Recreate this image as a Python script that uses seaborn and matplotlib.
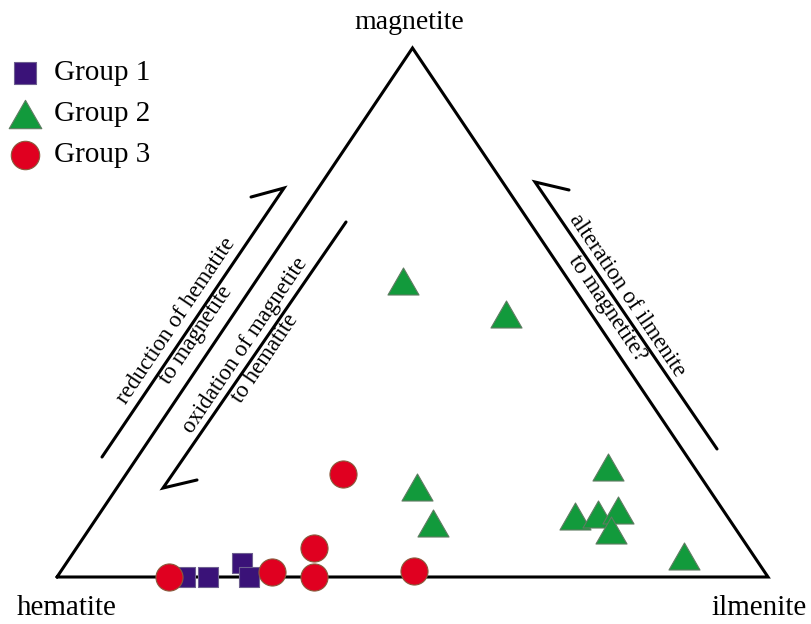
import matplotlib
matplotlib.use("Agg")
import matplotlib.pyplot as plt
import seaborn as sns
import pandas as pd
import numpy as np
from matplotlib.path import Path

# --- data: ternary compositions (fractions of magnetite / ilmenite, hematite = rest) ---
g1_magnetite = [0.000, 0.000, 0.026, 0.000]
g1_ilmenite = [0.180, 0.212, 0.247, 0.270]

g2_magnetite = [0.560, 0.497, 0.170, 0.102, 0.208, 0.115, 0.119, 0.127, 0.089, 0.040]
g2_ilmenite = [0.207, 0.383, 0.421, 0.478, 0.671, 0.671, 0.701, 0.725, 0.734, 0.862]

g3_magnetite = [0.000, 0.010, 0.055, 0.000, 0.011, 0.195]
g3_ilmenite = [0.158, 0.298, 0.334, 0.361, 0.497, 0.305]

group_names = ["Group 1", "Group 2", "Group 3"]


def to_xy(mag, ilm):
    mag = np.asarray(mag)
    ilm = np.asarray(ilm)
    return ilm + 0.5 * mag, mag


frames = []
for name, mag, ilm in zip(group_names,
                          [g1_magnetite, g2_magnetite, g3_magnetite],
                          [g1_ilmenite, g2_ilmenite, g3_ilmenite]):
    x, y = to_xy(mag, ilm)
    frames.append(pd.DataFrame({"x": x, "y": y, "group": name}))
df = pd.concat(frames, ignore_index=True)

# --- style ---
sns.set_style("white")
plt.rcParams["font.family"] = ["Liberation Serif", "DejaVu Serif"]
plt.rcParams["text.color"] = "black"

tri_marker = Path([(-1, -0.87), (1, -0.87), (0, 0.87), (-1, -0.87)],
                  [Path.MOVETO, Path.LINETO, Path.LINETO, Path.CLOSEPOLY])

estilos = {
    "Group 1": dict(marker="s", s=210, color="#3a1278", edgecolor="#6e6090"),
    "Group 2": dict(marker=tri_marker, s=500, color="#129a3c", edgecolor="#5f7c62"),
    "Group 3": dict(marker="o", s=380, color="#e00020", edgecolor="#8a5a3c"),
}

fig = plt.figure(figsize=(8.12, 6.24), dpi=100)
ax = fig.add_axes([57 / 812, 47 / 624, 711 / 812, 529 / 624])
ax.set_xlim(0, 1)
ax.set_ylim(0, 1)
ax.axis("off")

# triangle outline
ax.plot([0, 1, 0.5, 0], [0, 0, 1, 0], color="black", lw=2.2, zorder=1,
        clip_on=False, solid_joinstyle="miter")

for name in group_names:
    sub = df[df["group"] == name]
    st = estilos[name]
    sns.scatterplot(data=sub, x="x", y="y", ax=ax, marker=st["marker"], s=st["s"],
                    color=st["color"], edgecolor=st["edgecolor"], linewidth=0.8,
                    label=name, zorder=3, clip_on=False)

# vertex labels
ax.text(0.495, 1.049, "magnetite", ha="center", va="center", fontsize=20)
ax.text(0.013, -0.058, "hematite", ha="center", va="center", fontsize=21)
ax.text(0.988, -0.058, "ilmenite", ha="center", va="center", fontsize=21)

# process arrows (half-headed)
ax.plot([0.0633, 0.3193, 0.2729], [0.2268, 0.7353, 0.7183], color="black", lw=2.2,
        clip_on=False, solid_joinstyle="miter")
ax.plot([0.4065, 0.1491, 0.1969], [0.6711, 0.1682, 0.1834], color="black", lw=2.2,
        clip_on=False, solid_joinstyle="miter")
ax.plot([0.9283, 0.6723, 0.7201], [0.2420, 0.7467, 0.7316], color="black", lw=2.2,
        clip_on=False, solid_joinstyle="miter")

ax.text(0.1814, 0.4707, "reduction of hematite\nto magnetite", rotation=56,
        rotation_mode="anchor", ha="center", va="center", fontsize=16.5, linespacing=1.2)
ax.text(0.2785, 0.4253, "oxidation of magnetite\nto hematite", rotation=56,
        rotation_mode="anchor", ha="center", va="center", fontsize=16.5, linespacing=1.2)
ax.text(0.7876, 0.5198, "alteration of ilmenite\nto magnetite?", rotation=-56,
        rotation_mode="anchor", ha="center", va="center", fontsize=16.5, linespacing=1.2)

leg = ax.legend(loc="upper left", bbox_to_anchor=(-0.002, 1 - 54 / 624),
                bbox_transform=fig.transFigure, frameon=False, fontsize=21,
                handletextpad=0.3, labelspacing=0.5, borderaxespad=0.0,
                borderpad=0.2, handlelength=1.4, markerscale=1.05)

fig.savefig("out.png", dpi=100)
